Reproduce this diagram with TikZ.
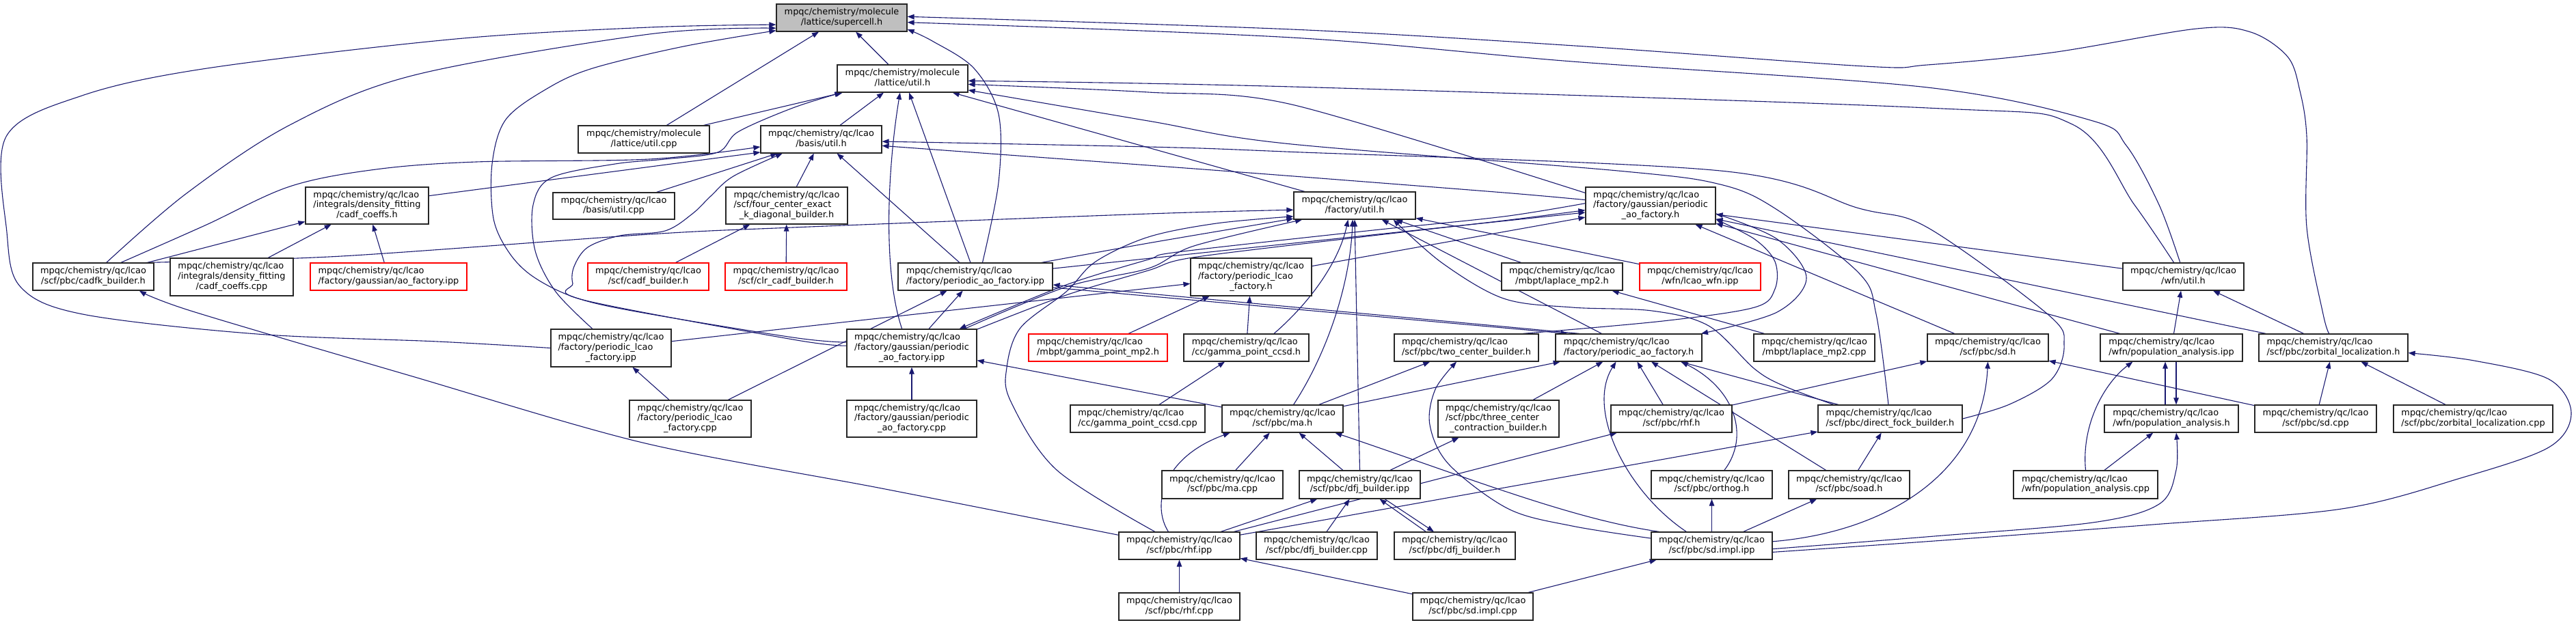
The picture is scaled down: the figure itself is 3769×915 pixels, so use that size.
\documentclass[tikz,border=0pt]{standalone}
\usepackage{fontspec}
\setmainfont{DejaVu Sans}
\usetikzlibrary{arrows.meta}
\pgfdeclarelayer{bg}
\pgfsetlayers{bg,main}
\definecolor{mblue}{HTML}{191970}
\definecolor{greyroot}{HTML}{BFBFBF}
\newcommand\two[2]{\begin{tabular}{@{}l@{}}#1\\\multicolumn{1}{@{}c@{}}{#2}\end{tabular}}
\newcommand\three[3]{\begin{tabular}{@{}l@{}}#1\\#2\\\multicolumn{1}{@{}c@{}}{#3}\end{tabular}}
\newcommand\mylc{mpqc/chemistry/qc/lcao}
\newcommand\bx[7][box]{\node[#1,minimum width={(#4)-(#2)},minimum height={(#5)-(#3)}] (#6) at ({((#2)+(#4))/2},{((#3)+(#5))/2}) {#7};}
\tikzset{
  box/.style={draw=black!85,line width=1.2pt,fill=white,inner sep=0pt,font=\fontsize{12.9}{14.7}\selectfont},
  root/.style={box,fill=greyroot},
  trunc/.style={box,draw=red},
  lnk/.style={draw=mblue,line width=1.1pt,-{Triangle[length=10pt,width=7.5pt]}},
}
\begin{document}
\begin{tikzpicture}[x=1pt,y=-1pt]
\useasboundingbox (0,0) rectangle (3769,915);
% nodes
\bx[root]{1136}{6}{1327}{46}{A}{\two{mpqc/chemistry/molecule}{/lattice/supercell.h}}
\bx{1225}{95}{1416}{135}{B}{\two{mpqc/chemistry/molecule}{/lattice/util.h}}
\bx{846}{184}{1038}{224}{C1}{\two{mpqc/chemistry/molecule}{/lattice/util.cpp}}
\bx{1113}{184}{1290}{224}{C2}{\two{\mylc}{/basis/util.h}}
\bx{447}{274}{627}{328}{D1}{\three{\mylc}{/integrals/density\_fitting}{/cadf\_coeffs.h}}
\bx{809}{282}{987}{321}{D2}{\two{\mylc}{/basis/util.cpp}}
\bx{1062}{274}{1240}{328}{D3}{\three{\mylc}{/scf/four\_center\_exact}{\_k\_diagonal\_builder.h}}
\bx{1893}{281}{2071}{321}{D4}{\two{\mylc}{/factory/util.h}}
\bx{2320}{274}{2510}{328}{D5}{\three{\mylc}{/factory/gaussian/periodic}{\_ao\_factory.h}}
\bx{48}{385}{225}{425}{E1}{\two{\mylc}{/scf/pbc/cadfk\_builder.h}}
\bx{249}{378}{429}{433}{E2}{\three{\mylc}{/integrals/density\_fitting}{/cadf\_coeffs.cpp}}
\bx[trunc]{454}{385}{683}{425}{E3}{\two{\mylc}{/factory/gaussian/ao\_factory.ipp}}
\bx[trunc]{860}{385}{1037}{425}{E4}{\two{\mylc}{/scf/cadf\_builder.h}}
\bx[trunc]{1061}{385}{1239}{425}{E5}{\two{\mylc}{/scf/clr\_cadf\_builder.h}}
\bx{1314}{385}{1540}{425}{E6}{\two{\mylc}{/factory/periodic\_ao\_factory.ipp}}
\bx{1742}{378}{1919}{433}{E7}{\three{\mylc}{/factory/periodic\_lcao}{\_factory.h}}
\bx{2197}{385}{2374}{425}{E8}{\two{\mylc}{/mbpt/laplace\_mp2.h}}
\bx[trunc]{2399}{385}{2576}{425}{E9}{\two{\mylc}{/wfn/lcao\_wfn.ipp}}
\bx{3106}{385}{3283}{425}{E10}{\two{\mylc}{/wfn/util.h}}
\bx{806}{482}{982}{537}{F1}{\three{\mylc}{/factory/periodic\_lcao}{\_factory.ipp}}
\bx{1239}{482}{1429}{537}{F2}{\three{\mylc}{/factory/gaussian/periodic}{\_ao\_factory.ipp}}
\bx[trunc]{1505}{489}{1708}{529}{F3}{\two{\mylc}{/mbpt/gamma\_point\_mp2.h}}
\bx{1732}{489}{1915}{529}{F4}{\two{\mylc}{/cc/gamma\_point\_ccsd.h}}
\bx{2040}{489}{2251}{529}{F5}{\two{\mylc}{/scf/pbc/two\_center\_builder.h}}
\bx{2276}{489}{2490}{529}{F6}{\two{\mylc}{/factory/periodic\_ao\_factory.h}}
\bx{2566}{489}{2743}{529}{F7}{\two{\mylc}{/mbpt/laplace\_mp2.cpp}}
\bx{2820}{489}{2997}{529}{F8}{\two{\mylc}{/scf/pbc/sd.h}}
\bx{3073}{489}{3281}{529}{F9}{\two{\mylc}{/wfn/population\_analysis.ipp}}
\bx{3305}{489}{3523}{529}{F10}{\two{\mylc}{/scf/pbc/zorbital\_localization.h}}
\bx{921}{586}{1099}{640}{G1}{\three{\mylc}{/factory/periodic\_lcao}{\_factory.cpp}}
\bx{1239}{586}{1429}{640}{G2}{\three{\mylc}{/factory/gaussian/periodic}{\_ao\_factory.cpp}}
\bx{1566}{593}{1763}{633}{G3}{\two{\mylc}{/cc/gamma\_point\_ccsd.cpp}}
\bx{1788}{593}{1965}{633}{G4}{\two{\mylc}{/scf/pbc/ma.h}}
\bx{2104}{586}{2281}{640}{G5}{\three{\mylc}{/scf/pbc/three\_center}{\_contraction\_builder.h}}
\bx{2357}{593}{2534}{633}{G6}{\two{\mylc}{/scf/pbc/rhf.h}}
\bx{2660}{593}{2871}{633}{G7}{\two{\mylc}{/scf/pbc/direct\_fock\_builder.h}}
\bx{3079}{593}{3275}{633}{G8}{\two{\mylc}{/wfn/population\_analysis.h}}
\bx{3299}{593}{3477}{633}{G9}{\two{\mylc}{/scf/pbc/sd.cpp}}
\bx{3502}{593}{3735}{633}{G10}{\two{\mylc}{/scf/pbc/zorbital\_localization.cpp}}
\bx{1700}{689}{1877}{730}{H1}{\two{\mylc}{/scf/pbc/ma.cpp}}
\bx{1901}{689}{2078}{730}{H2}{\two{\mylc}{/scf/pbc/dfj\_builder.ipp}}
\bx{2416}{689}{2593}{730}{H3}{\two{\mylc}{/scf/pbc/orthog.h}}
\bx{2617}{689}{2794}{730}{H4}{\two{\mylc}{/scf/pbc/soad.h}}
\bx{2946}{689}{3157}{730}{H5}{\two{\mylc}{/wfn/population\_analysis.cpp}}
\bx{1637}{779}{1814}{819}{I1}{\two{\mylc}{/scf/pbc/rhf.ipp}}
\bx{1838}{779}{2015}{819}{I2}{\two{\mylc}{/scf/pbc/dfj\_builder.cpp}}
\bx{2040}{779}{2217}{819}{I3}{\two{\mylc}{/scf/pbc/dfj\_builder.h}}
\bx{2416}{779}{2593}{819}{I4}{\two{\mylc}{/scf/pbc/sd.impl.ipp}}
\bx{1637}{868}{1814}{908}{J1}{\two{\mylc}{/scf/pbc/rhf.cpp}}
\bx{2067}{868}{2243}{908}{J2}{\two{\mylc}{/scf/pbc/sd.impl.cpp}}
\begin{pgfonlayer}{bg}
\fill[white] (0,0) rectangle (3769,915);
% ---- edges into A
\draw[lnk] plot[smooth,tension=0.55] coordinates {(F1.west) (640,500) (376,489) (121,460) (30,420) (10,340) (9,200) (120,140) (303,100) (667,57) (950,40) (A.186)};
\draw[lnk] plot[smooth,tension=0.55] coordinates {(E1.47) (273,283) (424,183) (606,110) (950,50) (A.189)};
\draw[lnk] plot[smooth,tension=0.55] coordinates {(F2.175) (1160,494) (930,456) (840,435) (780,405) (745,370) (722,320) (720,240) (740,175) (800,130) (867,100) (1000,68) (A.191)};
\draw[lnk] (C1) -- (A);
\draw[lnk] (B) -- (A);
\draw[lnk] plot[smooth,tension=0.55] coordinates {(E6.63) (1461,267) (1461,167) (1425,100) (1364,60) (A.-10)};
\draw[lnk] plot[smooth,tension=0.55] coordinates {(F10.107) (3399,460) (3375,333) (3375,200) (3365,133) (3347,83) (3293,47) (3214,42) (3002,77) (2820,95) (2728,97) (2304,67) (1890,43) (A.1)};
\draw[lnk] plot[smooth,tension=0.55] coordinates {(E10.103) (3159,300) (3111,213) (3062,177) (2820,128) (2300,90) (1890,55) (A.-4)};
% ---- into B
\draw[lnk] (C1) -- (B);
\draw[lnk] plot[smooth,tension=0.55] coordinates {(F1.134) (813,427) (783,367) (780,300) (807,260) (900,240) (973,233) (1050,223) (1080,193) (1160,158) (B.193)};
\draw[lnk] (C2) -- (B);
\draw[lnk] (F2.117) .. controls (1292,400) and (1298,250) .. (B.260);
\draw[lnk] (E6.109) -- (B.295);
\draw[lnk] (D4) -- (B);
\draw[lnk] plot[smooth,tension=0.55] coordinates {(E10.124) (3123,300) (3032,182) (2820,158) (1890,127) (B.-2)};
\draw[lnk] plot[smooth,tension=0.5] coordinates {(D5.169) (1890,153) (1680,135) (B.-5)};
\draw[lnk] plot[smooth,tension=0.55] coordinates {(G7.97) (2745,460) (2720,400) (2600,307) (2517,270) (2367,250) (1880,210) (1680,177) (B.-10)};
% ---- into C2
\draw[lnk] plot[smooth,tension=0.55] coordinates {(E1.27) (300,330) (424,273) (550,248) (697,237) (950,233) (C2.187)};
\draw[lnk] (D1.9) -- (C2.192);
\draw[lnk] (D2) -- (C2);
\draw[lnk] (D3) -- (C2);
\draw[lnk] (E6) -- (C2);
\draw[lnk] plot[smooth,tension=0.55] coordinates {(F2.178) (1160,497) (853,439) (838,415) (840,390) (860,362) (907,345) (973,338) (1013,313) (1040,287) (1073,258) (C2.200)};
\draw[lnk] plot[smooth,tension=0.5] coordinates {(D5.175) (2200,282) (1880,257) (1680,242) (C2.-6)};
\draw[lnk] plot[smooth,tension=0.55] coordinates {(G7.east) (2940,592) (3002,555) (3020,505) (2996,460) (2820,333) (2720,305) (2517,250) (1880,222) (1680,215) (C2.-2)};
% ---- D1, D3
\draw[lnk] (E1) -- (D1);
\draw[lnk] (E2) -- (D1);
\draw[lnk] (E3) -- (D1);
\draw[lnk] (E4) -- (D3);
\draw[lnk] (E5) -- (D3);
% ---- into D4
\draw[lnk] plot[smooth,tension=0.5] coordinates {(E1.15) (500,375) (950,343) (1160,333) (1680,313) (D4.184)};
\draw[lnk] plot[smooth,tension=0.55] coordinates {(I1.150) (1546,688) (1479,588) (1473,538) (1493,480) (1560,427) (1603,383) (1680,347) (1780,327) (D4.190)};
\draw[lnk] plot[smooth,tension=0.5] coordinates {(E6.12) (1680,356) (D4.192)};
\draw[lnk] plot[smooth,tension=0.55] coordinates {(F2.20) (1560,420) (1680,393) (1747,360) (D4.195)};
\draw[lnk] (F4.27) .. controls (1920,440) and (1960,380) .. (D4.245);
\draw[lnk] (G4.52) .. controls (1940,520) and (1975,420) .. (D4.262);
\draw[lnk] (H2.north) -- (D4.south);
\draw[lnk] (E8) -- (D4);
\draw[lnk] (E9) -- (D4);
\draw[lnk] (F6) -- (D4);
\draw[lnk] plot[smooth,tension=0.55] coordinates {(G7.166) (2610,565) (2567,540) (2500,477) (2417,455) (2300,450) (2200,437) (2110,385) (D4.-20)};
% ---- into D5
\draw[lnk] (E7) -- (D5);
\draw[lnk] (E6) -- (D5);
\draw[lnk] plot[smooth,tension=0.5] coordinates {(F2.16) (1560,432) (1680,396) (1745,377) (2000,346) (2200,323) (D5.184)};
\draw[lnk] plot[smooth,tension=0.5] coordinates {(D5.178) (2200,317) (2000,338) (1723,369) (1680,380) (1560,417) (F2.22)};
\draw[lnk] (E10) -- (D5);
\draw[lnk] plot[smooth,tension=0.55] coordinates {(F5.14) (2433,470) (2567,450) (2597,423) (2597,383) (2567,350) (D5.-12)};
\draw[lnk] plot[smooth,tension=0.55] coordinates {(D5.-7) (2600,350) (2643,407) (2600,457) (F6.11)};
\draw[lnk] (F10) -- (D5);
\draw[lnk] (F9) -- (D5);
\draw[lnk] (F8) -- (D5);
% ---- E6, E7, E8, E10
\draw[lnk] (G1) -- (E6);
\draw[lnk] (F2) -- (E6);
\draw[lnk] (F6.164) -- (E6.-6);
\draw[lnk] (E6.-8) -- (F6.167);
\draw[lnk] (F1) -- (E7);
\draw[lnk] (F3) -- (E7);
\draw[lnk] (F4) -- (E7);
\draw[lnk] (F7) -- (E8);
\draw[lnk] (F9) -- (E10);
\draw[lnk] (F10) -- (E10);
% ---- F row
\draw[lnk] (G1) -- (F1);
\draw[lnk] (G2) -- (F2);
\draw[lnk] (G4) -- (F2);
\draw[lnk] (G3) -- (F4);
\draw[lnk] (G4) -- (F5);
\draw[lnk] plot[smooth,tension=0.55] coordinates {(I4.173) (2300,770) (2207,745) (2120,680) (2092,622) (2100,570) (F5.235)};
\draw[lnk] (G4) -- (F6);
\draw[lnk] (G5) -- (F6);
\draw[lnk] (G6) -- (F6);
\draw[lnk] (G7) -- (F6);
\draw[lnk] (H3.49) .. controls (2560,640) and (2540,570) .. (F6.-15);
\draw[lnk] (H4) -- (F6);
\draw[lnk] (I4.151) .. controls (2380,720) and (2320,600) .. (F6.228);
\draw[lnk] (G6) -- (F8);
\draw[lnk] (G9) -- (F8);
\draw[lnk] (I4.4) .. controls (2750,780) and (2900,700) .. (F8.south);
\draw[lnk] ([xshift=-9pt]G8.north) -- ([xshift=-9pt]F9.south);
\draw[lnk] ([xshift=7pt]F9.south) -- ([xshift=7pt]G8.north);
\draw[lnk] (H5.north) .. controls (3045,620) and (3080,560) .. (F9.200);
\draw[lnk] (H5) -- (G8);
\draw[lnk] plot[smooth,tension=0.55] coordinates {(I4.-3) (2830,785) (3062,765) (3159,738) (3184,688) (G8.-71)};
\draw[lnk] plot[smooth,tension=0.55] coordinates {(I4.-6) (2830,792) (3150,768) (3426,745) (3600,700) (3729,655) (3762,605) (3729,555) (3620,528) (F10.-4)};
\draw[lnk] (G9) -- (F10);
\draw[lnk] (G10) -- (F10);
% ---- G row
\draw[lnk] (H1) -- (G4);
\draw[lnk] (H2) -- (G4);
\draw[lnk] (I1.128) .. controls (1685,740) and (1700,670) .. (G4.195);
\draw[lnk] (I4.165) .. controls (2300,760) and (2150,700) .. (G4.-15);
\draw[lnk] (H2) -- (G5);
\draw[lnk] (I1) -- (G6);
\draw[lnk] (I1) -- (G7);
\draw[lnk] (H4) -- (G7);
% ---- H row
\draw[lnk] (I1) -- (H2);
\draw[lnk] (I2) -- (H2);
\draw[lnk] (I3.154) -- (H2.-36);
\draw[lnk] (H2.-30) -- (I3.146);
\draw[lnk] (I4) -- (H3);
\draw[lnk] (I4) -- (H4);
% ---- I, J rows
\draw[lnk] plot[smooth,tension=0.5] coordinates {(I1.170) (1290,715) (940,648) (600,550) (279,455) (E1.-17)};
\draw[lnk] (J1) -- (I1);
\draw[lnk] (J2) -- (I1);
\draw[lnk] (J2) -- (I4);
\end{pgfonlayer}
\end{tikzpicture}
\end{document}
